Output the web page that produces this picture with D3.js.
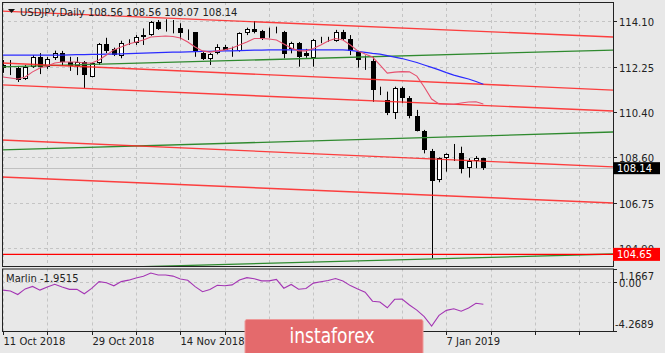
<!DOCTYPE html>
<html>
<head>
<meta charset="utf-8">
<script src="https://cdn.jsdelivr.net/npm/d3@7"></script>
<style>
  body { margin: 0; background: #e8e8e8; }
  text { font-family: "DejaVu Sans", sans-serif; }
</style>
</head>
<body>
<div id="chart"></div>
<script>
// daily USDJPY candles, 11 Oct 2018 .. mid Jan 2019
const opens = [112.30,112.24,112.20,111.75,112.25,112.65,112.21,112.59,112.82,112.43,112.25,112.43,111.84,112.39,113.17,112.95,112.68,113.16,113.20,113.46,113.53,114.07,113.86,113.84,113.80,113.68,113.64,112.79,112.55,112.82,113.06,113.01,112.89,113.60,113.78,113.70,113.70,113.70,113.67,112.95,113.20,112.79,112.61,113.30,113.36,113.29,113.64,113.37,112.86,112.52,112.48,111.29,110.90,110.36,111.38,110.99,110.27,109.65,108.85,107.63,108.54,108.76,108.74,108.16,108.43,108.56];
const highs = [112.52,112.52,112.28,112.32,112.72,112.80,112.64,112.90,112.89,112.65,112.64,112.48,112.41,113.21,113.42,113.02,113.30,113.36,113.53,113.80,114.10,114.14,114.17,114.14,114.01,113.76,113.65,112.84,112.80,113.16,113.13,113.06,113.64,113.83,114.10,113.74,113.83,113.87,113.70,113.26,113.25,112.97,113.37,113.46,113.46,113.74,113.74,113.53,112.89,112.70,112.65,111.44,111.24,111.44,111.44,111.06,110.50,109.69,108.92,108.58,108.74,109.12,109.01,108.54,108.63,108.56];
const lows = [112.00,111.91,111.63,111.71,112.20,111.95,112.16,112.52,112.28,112.08,111.91,111.39,111.82,112.32,112.80,112.68,112.59,113.13,113.13,113.13,113.50,113.74,113.67,113.60,113.36,113.33,112.65,112.52,112.32,112.75,112.93,112.65,112.86,113.53,113.60,113.33,113.42,113.60,112.59,112.79,112.25,112.61,112.25,113.20,113.26,113.26,113.33,112.72,112.21,112.12,110.83,111.10,110.29,110.13,110.77,110.16,109.63,108.74,104.49,107.57,108.00,108.43,107.93,107.76,108.14,108.07];
const closes = [112.16,112.22,111.71,112.24,112.65,112.25,112.55,112.79,112.45,112.25,112.43,111.91,112.39,113.16,112.90,112.72,113.20,113.21,113.44,113.53,114.07,113.80,113.83,113.83,113.60,113.65,112.86,112.55,112.76,113.06,112.95,112.98,113.60,113.78,113.67,113.40,113.68,113.69,112.79,113.20,112.65,112.65,113.33,113.28,113.31,113.64,113.37,112.89,112.52,112.50,111.31,111.27,110.36,111.38,110.97,110.27,109.65,108.88,107.63,108.54,108.70,108.73,108.11,108.43,108.57,108.14];

// moving averages
const maFast = [111.83,111.79,111.75,111.83,112.04,112.20,112.28,112.40,112.44,112.44,112.44,112.40,112.40,112.52,112.72,112.93,113.05,113.17,113.25,113.33,113.45,113.47,113.49,113.47,113.41,113.25,113.05,112.89,112.84,112.89,112.93,113.01,113.13,113.25,113.39,113.39,113.37,113.33,113.17,113.01,112.89,112.89,112.99,113.13,113.29,113.39,113.33,113.13,112.89,112.76,112.64,112.32,111.99,112.03,112.05,112.04,111.87,111.43,110.94,110.74,110.73,110.73,110.78,110.82,110.83,110.74];
const maSlow = [112.72,112.72,112.72,112.72,112.72,112.72,112.72,112.72,112.72,112.73,112.74,112.74,112.75,112.75,112.76,112.76,112.77,112.78,112.79,112.80,112.81,112.82,112.83,112.84,112.84,112.85,112.86,112.87,112.87,112.88,112.89,112.89,112.90,112.91,112.92,112.92,112.93,112.93,112.93,112.93,112.93,112.93,112.93,112.93,112.93,112.93,112.93,112.91,112.87,112.83,112.79,112.76,112.70,112.64,112.58,112.50,112.42,112.32,112.22,112.12,112.01,111.91,111.83,111.75,111.65,111.54];

// Marlin oscillator
const marlin = [-0.70,-0.77,-1.09,-0.59,-0.37,-0.70,-0.42,-0.19,-0.42,-0.63,-0.63,-1.02,-0.55,0.05,-0.05,-0.32,0.05,0.18,0.37,0.53,0.81,0.63,0.63,0.54,0.28,0.17,-0.39,-0.84,-0.64,-0.27,-0.31,-0.24,0.20,0.40,0.31,0.12,0.12,0.25,-0.53,-0.20,-0.62,-0.56,-0.08,0.04,0.15,0.32,0.10,-0.30,-0.60,-0.88,-1.68,-1.75,-2.26,-1.51,-1.49,-2.01,-2.47,-3.04,-3.87,-2.93,-2.49,-2.35,-2.56,-2.28,-1.86,-1.9515];

// channel lines: price at anchor bar 0 and anchor bar 82
const lineBars = [0, 82];
const redLines = [[114.50,113.46],[112.40,111.31],[111.51,110.46],[109.28,108.20],[107.78,106.74]];
const greenLines = [[112.24,112.92],[108.88,109.60],[104.00,104.66]];
const supportLevel = 104.65;
const lastPrice = 108.14;

const priceTicks = [114.10, 112.25, 110.40, 108.60, 106.75, 104.90];
const oscTicks = [1.1667, 0.00, -4.2689];
const dateBars = [0, 12, 24, 60];
const dateLabels = ["11 Oct 2018", "29 Oct 2018", "14 Nov 2018", "7 Jan 2019"];

let W = 665, H = 353;
let left = 2, right = 613;
let mainTop = 2, mainBottom = 266;
let oscTop = 268.5, oscBottom = 331;

let svg = d3.select("#chart")
    .append("svg")
    .attr("width", W)
    .attr("height", H)
    .style("display", "block")
    .style("background", "#e8e8e8");

let x = d3.scaleLinear().domain([0, 65]).range([3, 483.35]);
let y = d3.scaleLinear().domain([104.90, 114.10]).range([248.2, 21]);
let yOsc = d3.scaleLinear().domain([-4.2689, 1.1667]).range([oscBottom - 0.5, oscTop + 0.5]);

let defs = svg.append("defs");
defs.append("clipPath").attr("id", "clipMain")
    .append("rect").attr("x", left).attr("y", mainTop).attr("width", right - left).attr("height", mainBottom - mainTop);
defs.append("clipPath").attr("id", "clipOsc")
    .append("rect").attr("x", left).attr("y", oscTop).attr("width", right - left).attr("height", oscBottom - oscTop);

let main = svg.append("g").attr("clip-path", "url(#clipMain)");
let osc = svg.append("g").attr("clip-path", "url(#clipOsc)");

// grid
let gridBars = d3.range(0, 80, 6);
[main, osc].forEach((g, k) => {
    g.selectAll(".vgrid")
        .data(gridBars)
        .enter()
        .append("line")
        .attr("x1", d => Math.round(x(d)) + 0.5)
        .attr("x2", d => Math.round(x(d)) + 0.5)
        .attr("y1", k == 0 ? mainTop : oscTop)
        .attr("y2", k == 0 ? mainBottom : oscBottom)
        .attr("stroke", "#c4c4c4")
        .attr("stroke-dasharray", "3,3");
});
main.selectAll(".hgrid")
    .data(priceTicks)
    .enter()
    .append("line")
    .attr("x1", left).attr("x2", right)
    .attr("y1", d => Math.round(y(d)) + 0.5)
    .attr("y2", d => Math.round(y(d)) + 0.5)
    .attr("stroke", "#c4c4c4")
    .attr("stroke-dasharray", "3,3");
osc.append("line")
    .attr("x1", left).attr("x2", right)
    .attr("y1", Math.round(yOsc(0)) + 0.5)
    .attr("y2", Math.round(yOsc(0)) + 0.5)
    .attr("stroke", "#c4c4c4")
    .attr("stroke-dasharray", "3,3");

// bid line
main.append("line")
    .attr("x1", left).attr("x2", right)
    .attr("y1", Math.round(y(lastPrice)) + 0.5)
    .attr("y2", Math.round(y(lastPrice)) + 0.5)
    .attr("stroke", "#c0c0c0");

// title
svg.append("path")
    .attr("d", "M8,9 L15,9 L11.5,13 Z")
    .attr("fill", "#111");
svg.append("text")
    .attr("x", 20)
    .attr("y", 16)
    .attr("font-size", 10)
    .attr("fill", "#222")
    .text("USDJPY,Daily  108.56 108.56 108.07 108.14");

// candles
let candles = main.selectAll(".candle")
    .data(opens.map((o, i) => ({i: i, o: o, h: highs[i], l: lows[i], c: closes[i]})))
    .enter()
    .append("g")
    .attr("class", "candle");

candles.append("line")
    .attr("x1", d => Math.round(x(d.i)) + 0.5)
    .attr("x2", d => Math.round(x(d.i)) + 0.5)
    .attr("y1", d => y(d.h))
    .attr("y2", d => y(d.l))
    .attr("stroke", "#000");

candles.append("rect")
    .attr("x", d => Math.round(x(d.i)) - 1.5)
    .attr("width", 4)
    .attr("y", d => Math.round(y(Math.max(d.o, d.c))) + 0.5)
    .attr("height", d => Math.max(0, Math.round(Math.abs(y(d.o) - y(d.c))) - 1))
    .attr("fill", d => d.c >= d.o ? "#fff" : "#000")
    .attr("stroke", "#000");

// channel lines
function lineAt(p) {
    let slope = (p[1] - p[0]) / (lineBars[1] - lineBars[0]);
    let b0 = x.invert(left), b1 = x.invert(right);
    return [[b0, p[0] + slope * (b0 - lineBars[0])], [b1, p[0] + slope * (b1 - lineBars[0])]];
}
let chLine = d3.line().x(d => x(d[0])).y(d => y(d[1]));

main.selectAll(".green-line")
    .data(greenLines)
    .enter()
    .append("path")
    .attr("d", d => chLine(lineAt(d)))
    .attr("fill", "none")
    .attr("stroke", "#2f8a2f")
    .attr("stroke-width", 1.3);

main.selectAll(".red-line")
    .data(redLines)
    .enter()
    .append("path")
    .attr("d", d => chLine(lineAt(d)))
    .attr("fill", "none")
    .attr("stroke", "#ff2020")
    .attr("stroke-opacity", 0.85)
    .attr("stroke-width", 1.4);

main.append("line")
    .attr("x1", left).attr("x2", right)
    .attr("y1", y(supportLevel)).attr("y2", y(supportLevel))
    .attr("stroke", "#ff0000")
    .attr("stroke-width", 1.2);

// moving averages
let maLine = d3.line().x((d, i) => x(i)).y(d => y(d));
main.append("path")
    .attr("d", maLine(maSlow))
    .attr("fill", "none")
    .attr("stroke", "#2b2bff")
    .attr("stroke-width", 1.2);
main.append("path")
    .attr("d", maLine(maFast))
    .attr("fill", "none")
    .attr("stroke", "#e6506e")
    .attr("stroke-width", 1.1);

// oscillator
osc.append("path")
    .attr("d", d3.line().x((d, i) => x(i)).y(d => yOsc(d))(marlin))
    .attr("fill", "none")
    .attr("stroke", "#a436b4")
    .attr("stroke-width", 1.1);
svg.append("text")
    .attr("x", 6)
    .attr("y", 282)
    .attr("font-size", 10)
    .attr("fill", "#222")
    .text("Marlin -1.9515");

// panel borders
svg.append("rect")
    .attr("x", left + 0.5).attr("y", mainTop + 0.5)
    .attr("width", right - left).attr("height", mainBottom - mainTop)
    .attr("fill", "none").attr("stroke", "#222");
svg.append("rect")
    .attr("x", left + 0.5).attr("y", oscTop + 0.5)
    .attr("width", right - left).attr("height", oscBottom - oscTop)
    .attr("fill", "none").attr("stroke", "#222");

// price axis
let yAxis = svg.append("g");
priceTicks.forEach(p => {
    let yy = Math.round(y(p)) + 0.5;
    yAxis.append("line").attr("x1", right).attr("x2", right + 4).attr("y1", yy).attr("y2", yy).attr("stroke", "#222");
    yAxis.append("text").attr("x", 619).attr("y", yy + 4.5).attr("font-size", 10).attr("fill", "#222").text(p.toFixed(2));
});

// last price and support labels
let lpY = y(lastPrice);
svg.append("rect").attr("x", right).attr("y", lpY - 6).attr("width", 47).attr("height", 12).attr("fill", "#000");
svg.append("text").attr("x", 617).attr("y", lpY + 4).attr("font-size", 10).attr("fill", "#fff").text(lastPrice.toFixed(2));
let spY = y(supportLevel);
svg.append("rect").attr("x", right).attr("y", spY - 6.5).attr("width", 47).attr("height", 13).attr("fill", "#ff0000");
svg.append("text").attr("x", 617).attr("y", spY + 4).attr("font-size", 10).attr("fill", "#fff").text(supportLevel.toFixed(2));

// oscillator axis
svg.append("text").attr("x", 619).attr("y", 280).attr("font-size", 10).attr("fill", "#222").text("1.1667");
svg.append("text").attr("x", 619).attr("y", 287).attr("font-size", 10).attr("fill", "#222").text("0.00");
svg.append("text").attr("x", 615).attr("y", 328).attr("font-size", 10).attr("fill", "#222").text("-4.2689");
[yOsc(1.1667), yOsc(0), yOsc(-4.2689)].forEach(v => {
    svg.append("line").attr("x1", right).attr("x2", right + 4)
        .attr("y1", Math.round(v) + 0.5).attr("y2", Math.round(v) + 0.5).attr("stroke", "#222");
});

// date axis
svg.selectAll(".date-tick")
    .data(gridBars)
    .enter()
    .append("line")
    .attr("x1", d => Math.round(x(d)) + 0.5)
    .attr("x2", d => Math.round(x(d)) + 0.5)
    .attr("y1", oscBottom)
    .attr("y2", oscBottom + 4)
    .attr("stroke", "#222");
svg.selectAll(".date-label")
    .data(dateBars)
    .enter()
    .append("text")
    .attr("x", d => Math.round(x(d)) + 0.5)
    .attr("y", 345)
    .attr("font-size", 10)
    .attr("fill", "#222")
    .text((d, i) => dateLabels[i]);

// instaforex banner
svg.append("rect")
    .attr("x", 245).attr("y", 319.5)
    .attr("width", 178).attr("height", 40)
    .attr("rx", 2)
    .attr("fill", "#e46a6c")
    .attr("stroke", "#ee9a9a");
svg.append("text")
    .attr("x", 332)
    .attr("y", 343)
    .attr("text-anchor", "middle")
    .attr("font-family", "Open Sans, sans-serif")
    .attr("font-size", 22)
    .attr("textLength", 85)
    .attr("lengthAdjust", "spacingAndGlyphs")
    .attr("fill", "#fff")
    .text("instaforex");
</script>
</body>
</html>
